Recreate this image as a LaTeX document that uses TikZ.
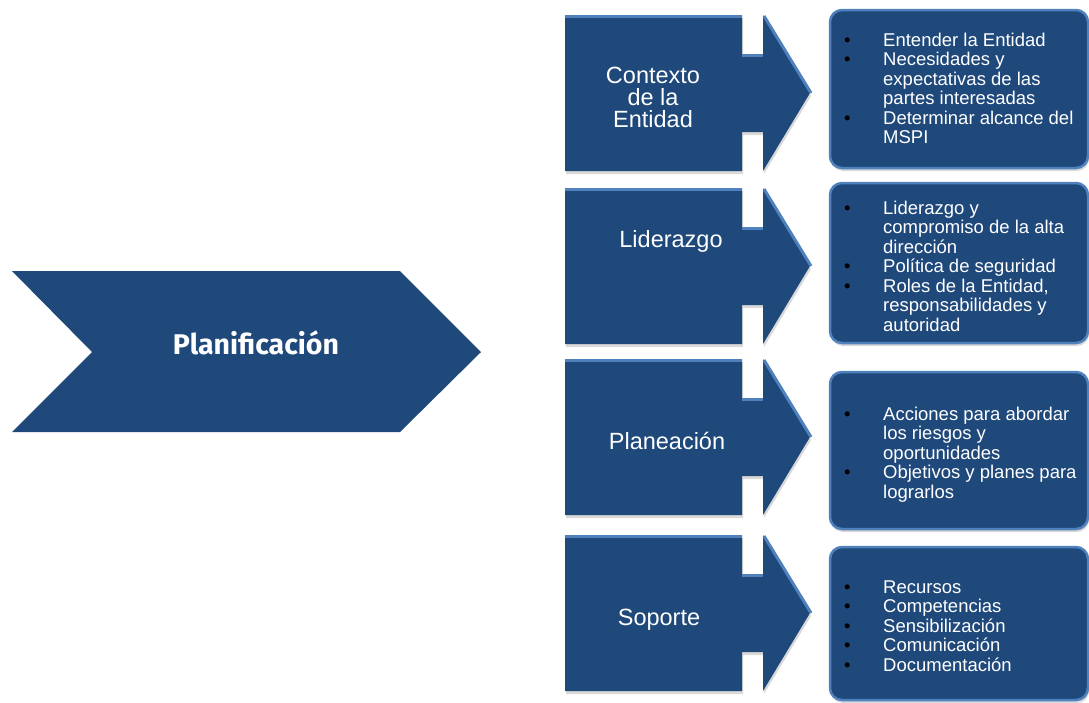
\documentclass[tikz,border=0pt]{standalone}
\usepackage{fontspec}
\setmainfont{Liberation Sans}
\newfontfamily\chevfont{Fira Sans}
\usepackage{xcolor}
\usetikzlibrary{shadows}
\definecolor{navy}{HTML}{1F487B}
\definecolor{bevel}{HTML}{4F81BD}
\newcommand{\bul}{\makebox[39pt][l]{\color{black}\textbullet}}
\newcommand{\ind}{\hspace*{39pt}}
% arrow callout, #1 = top edge
\newcommand{\callbody}[1]{%
  \fill[arrbox] (565,#1) -- ++(177,0) -- ++(0,39) -- ++(21,0) -- ++(0,-39)
    -- ++(47,78) -- ++(-47,78) -- ++(0,-39) -- ++(-21,0) -- ++(0,39)
    -- ++(-177,0) -- cycle;
  \draw[edge] (565,#1+1.5) -- (742,#1+1.5);
  \draw[edge] (742,#1+40.5) -- (763,#1+40.5);
  \draw[edge] (764,#1+1) -- (811,#1+78);
}

\begin{document}
\begin{tikzpicture}[
  x=1pt, y=-1pt,
  arrbox/.style={fill=navy, drop shadow={opacity=0.3, shadow xshift=1pt, shadow yshift=-3pt}},
  edge/.style={draw=bevel, line width=3pt},
  infobox/.style={fill=navy, draw=bevel, line width=2.5pt, rounded corners=12pt,
                  drop shadow={opacity=0.3, shadow xshift=1pt, shadow yshift=-3pt}},
  step label/.style={text=white, inner sep=0pt, anchor=base,
                     font=\fontsize{23.5}{22}\selectfont},
  items/.style={text=white, inner sep=0pt, anchor=base west,
                font=\fontsize{18.5}{19.5}\selectfont}
]
  \useasboundingbox (0,0) rectangle (1089,702);

  % Main chevron
  \fill[navy] (12,271) -- (400,271) -- (481,352) -- (400,432) -- (12,432) -- (92,352) -- cycle;
  \node[text=white, inner sep=0pt, anchor=base, font=\chevfont\bfseries\fontsize{28.5}{30}\selectfont]
    (plan) at (256,354) {Planificación};

  % Arrow callouts
  \callbody{15}
  \callbody{188}
  \callbody{359}
  \callbody{535}

  \node[step label] (ctx) at (653,83)
    {\begin{tabular}[t]{@{}c@{}}Contexto\\[-1.5pt]de la\\[-1.5pt]Entidad\end{tabular}};
  \node[step label] (lid) at (671,247) {Liderazgo};
  \node[step label] (pla) at (667,449) {Planeación};
  \node[step label] (sop) at (659,625) {Soporte};

  % Detail boxes
  \draw[infobox] (830,10) rectangle (1088,168);
  \draw[infobox] (830,183) rectangle (1088,343);
  \draw[infobox] (830,372) rectangle (1088,529);
  \draw[infobox] (830,547) rectangle (1088,700);

  \node[items] (ctxitems) at (844,46)
    {\begin{tabular}[t]{@{}l@{}}
      \bul Entender la Entidad\\
      \bul Necesidades y\\
      \ind expectativas de las\\
      \ind partes interesadas\\
      \bul Determinar alcance del\\
      \ind MSPI
    \end{tabular}};
  \node[items] (liditems) at (844,214)
    {\begin{tabular}[t]{@{}l@{}}
      \bul Liderazgo y\\
      \ind compromiso de la alta\\
      \ind dirección\\
      \bul Política de seguridad\\
      \bul Roles de la Entidad,\\
      \ind responsabilidades y\\
      \ind autoridad
    \end{tabular}};
  \node[items] (plaitems) at (844,420)
    {\begin{tabular}[t]{@{}l@{}}
      \bul Acciones para abordar\\
      \ind los riesgos y\\
      \ind oportunidades\\
      \bul Objetivos y planes para\\
      \ind lograrlos
    \end{tabular}};
  \node[items] (sopitems) at (844,593)
    {\begin{tabular}[t]{@{}l@{}}
      \bul Recursos\\
      \bul Competencias\\
      \bul Sensibilización\\
      \bul Comunicación\\
      \bul Documentación
    \end{tabular}};
\end{tikzpicture}
\end{document}
